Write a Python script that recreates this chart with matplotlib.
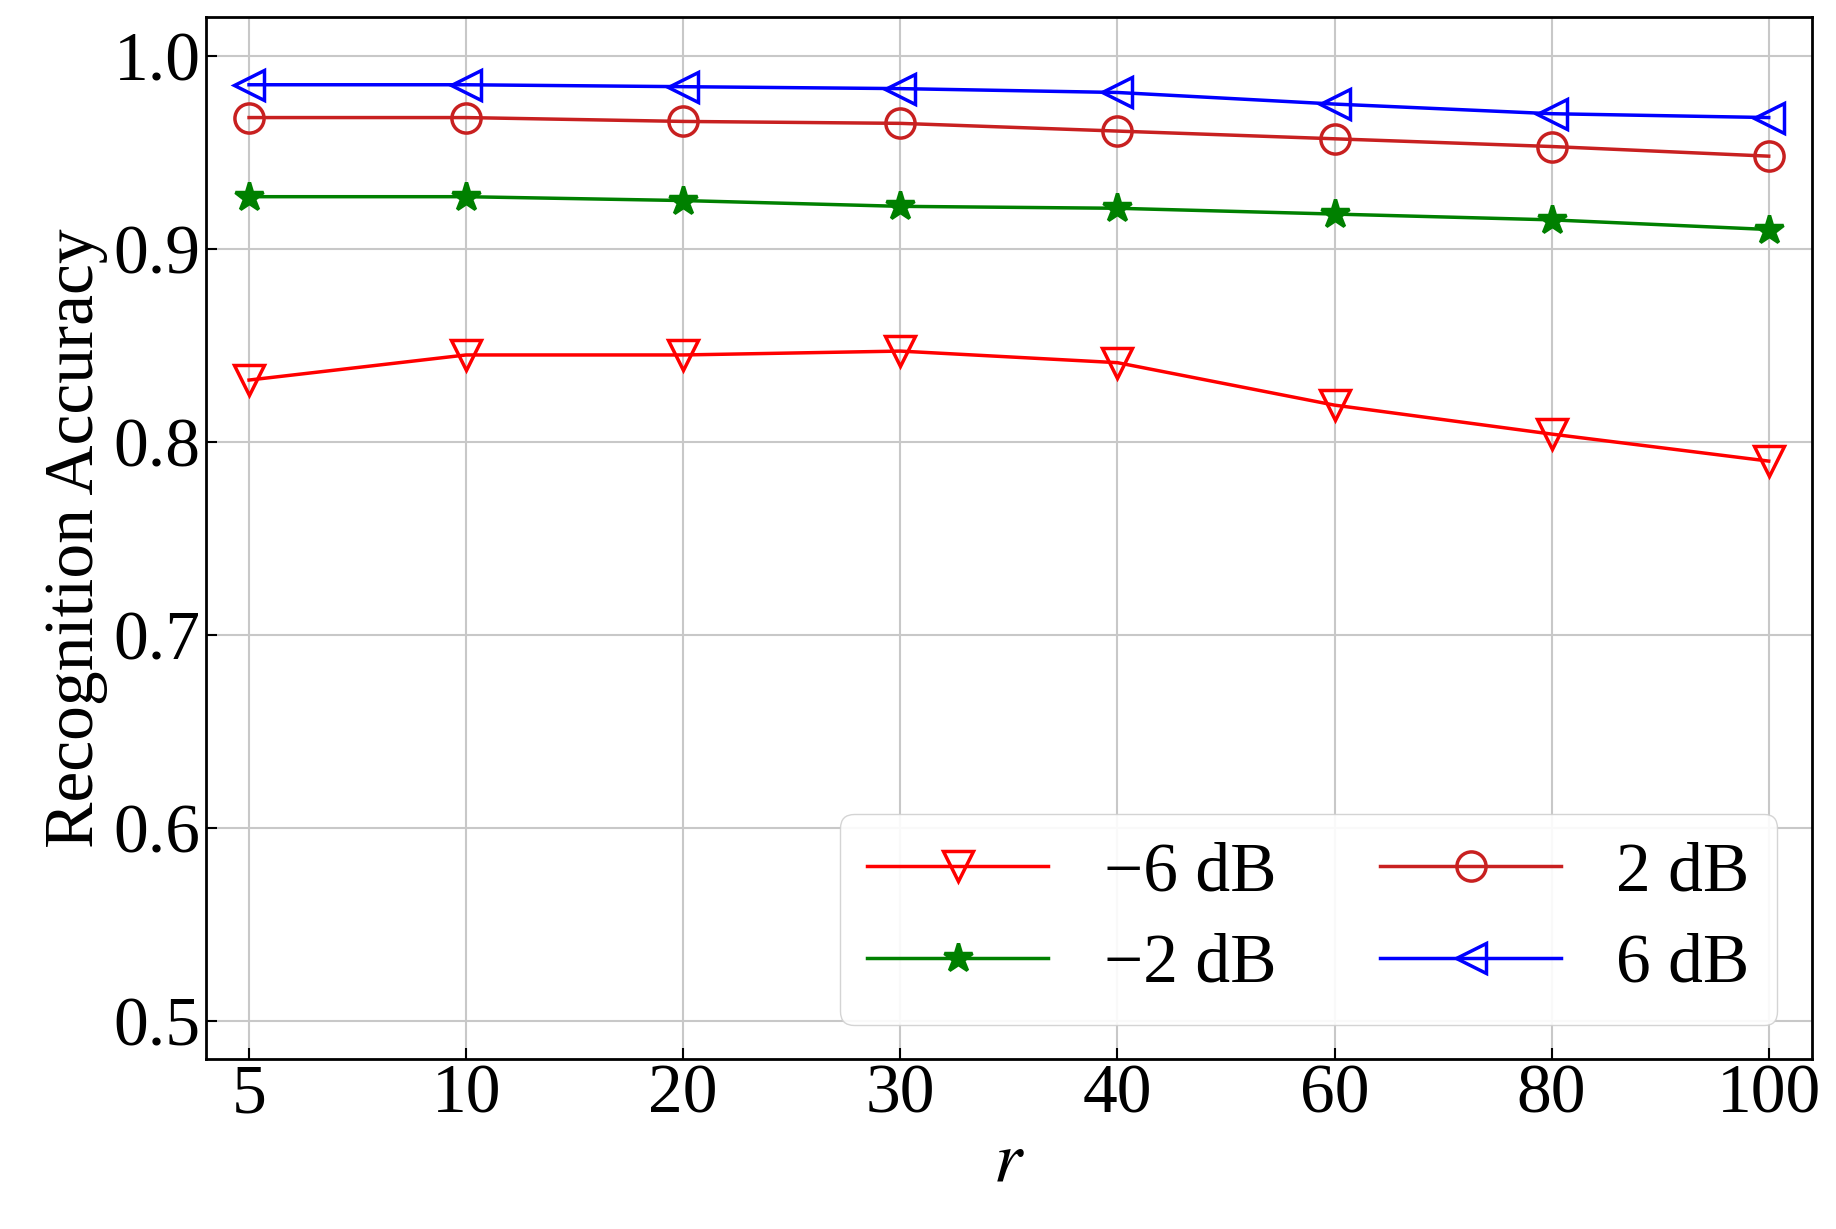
import matplotlib
matplotlib.use("Agg")
import matplotlib.pyplot as plt

r_labels = ["5", "10", "20", "30", "40", "60", "80", "100"]
acc_m6 = [0.832, 0.845, 0.845, 0.847, 0.841, 0.819, 0.804, 0.790]
acc_m2 = [0.927, 0.927, 0.925, 0.922, 0.921, 0.918, 0.915, 0.910]
acc_p2 = [0.968, 0.968, 0.966, 0.965, 0.961, 0.957, 0.953, 0.948]
acc_p6 = [0.985, 0.985, 0.984, 0.983, 0.981, 0.975, 0.970, 0.968]

plt.rcParams['font.family'] = ['Liberation Serif', 'DejaVu Serif']
plt.rcParams['mathtext.fontset'] = 'stix'
fig = plt.figure(figsize=(18.36, 12.29), dpi=100)
ax = fig.add_axes([0.112, 0.138, 0.875, 0.848])
x = range(len(r_labels))
ms = 21
ax.plot(x, acc_m6, color='red', marker='v', mfc='none', ms=ms, mew=2.5, lw=2.5, label='\u22126 dB')
ax.plot(x, acc_m2, color='green', marker='*', mfc='green', ms=ms, mew=2.5, lw=2.5, label='\u22122 dB')
ax.plot(x, acc_p2, color='#c82020', marker='o', mfc='none', ms=ms, mew=2.5, lw=2.5, label='2 dB')
ax.plot(x, acc_p6, color='blue', marker='<', mfc='none', ms=ms, mew=2.5, lw=2.5, label='6 dB')
ax.set_xticks(list(x))
ax.set_xticklabels(r_labels)
ax.set_xlim(-0.2, 7.2)
ax.set_ylim(0.48, 1.02)
ax.set_yticks([0.5, 0.6, 0.7, 0.8, 0.9, 1.0])
ax.set_yticklabels(["0.5", "0.6", "0.7", "0.8", "0.9", "1.0"])
ax.tick_params(direction='in', labelsize=50, length=8, width=1.5)
ax.grid(True, color='#c8c8c8', lw=1.5)
for s in ax.spines.values():
    s.set_linewidth(2)
ax.set_xlabel('$r$', fontsize=52, labelpad=2)
ax.set_ylabel('Recognition Accuracy', fontsize=50, labelpad=4)
ax.legend(ncol=2, loc='lower right', fontsize=50, handlelength=2.6, columnspacing=1.5,
          framealpha=0.9, edgecolor='#d0d0d0', borderpad=0.4, labelspacing=0.4)
fig.savefig('out.png', dpi=100)
